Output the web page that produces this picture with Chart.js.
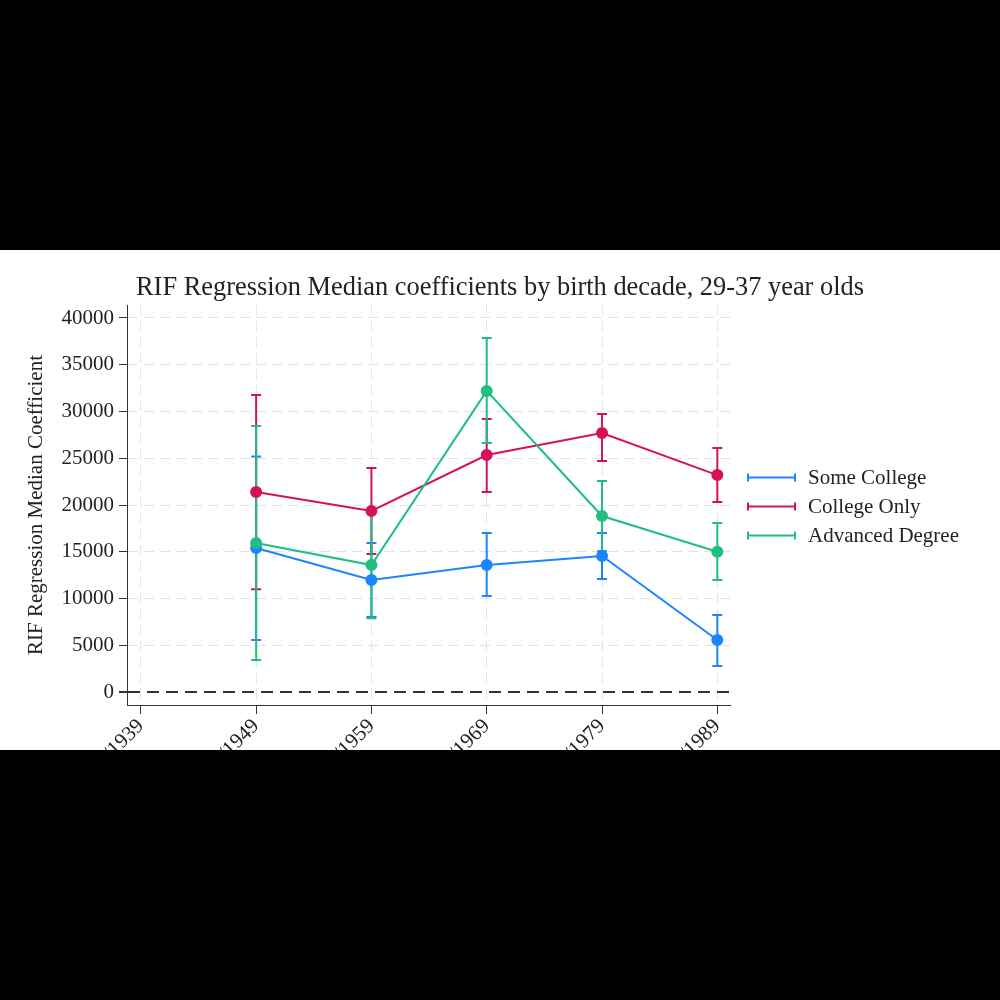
<!DOCTYPE html>
<html>
<head>
<meta charset="utf-8">
<script src="https://cdn.jsdelivr.net/npm/chart.js@4.4.0/dist/chart.umd.min.js"></script>
<style>
  html, body { margin: 0; padding: 0; background: #000; }
  #wrap { position: absolute; left: 0; top: 250px; width: 1000px; height: 500px; background: #fff; }
</style>
</head>
<body>
<div id="wrap"><canvas id="rif" width="1000" height="500"></canvas></div>
<script>
const chartTitle = 'RIF Regression Median coefficients by birth decade, 29-37 year olds';
const tickYears = [1939, 1949, 1959, 1969, 1979, 1989];
const yTicks = [0, 5000, 10000, 15000, 20000, 25000, 30000, 35000, 40000];
const cohorts = [1949, 1959, 1969, 1979, 1989];
const seriesNames = ['Some College', 'College Only', 'Advanced Degree'];

// point estimates
const someCollege = [15400, 11980, 13580, 14550, 5560];
const collegeOnly = [21400, 19360, 25350, 27700, 23200];
const advancedDegree = [15940, 13580, 32200, 18820, 15000];

// confidence interval bounds
const someCollegeHi = [25200, 15940, 17000, 17000, 8240];
const someCollegeLo = [5560, 8020, 10270, 12090, 2780];
const collegeOnlyHi = [31760, 23960, 29200, 29730, 26100];
const collegeOnlyLo = [11000, 14760, 21400, 24700, 20320];
const advancedHi = [28450, 19300, 37860, 22570, 18070];
const advancedLo = [3420, 7900, 26630, 15070, 11980];

const colors = ['#1a85ff', '#d41159', '#1fbf7f'];
const serif = "'Liberation Serif', 'Times New Roman', serif";

const series = [
  { name: seriesNames[0], color: colors[0], est: someCollege, hi: someCollegeHi, lo: someCollegeLo },
  { name: seriesNames[1], color: colors[1], est: collegeOnly, hi: collegeOnlyHi, lo: collegeOnlyLo },
  { name: seriesNames[2], color: colors[2], est: advancedDegree, hi: advancedHi, lo: advancedLo }
];

const errorBars = {
  id: 'errorBars',
  beforeDatasetsDraw(chart) {
    const { ctx, scales: { x, y } } = chart;
    series.forEach(s => {
      ctx.save();
      ctx.strokeStyle = s.color;
      ctx.lineWidth = 2;
      cohorts.forEach((yr, i) => {
        const px = x.getPixelForValue(yr);
        const top = y.getPixelForValue(s.hi[i]);
        const bot = y.getPixelForValue(s.lo[i]);
        ctx.beginPath();
        ctx.moveTo(px, top); ctx.lineTo(px, bot);
        ctx.moveTo(px - 5, top); ctx.lineTo(px + 5, top);
        ctx.moveTo(px - 5, bot); ctx.lineTo(px + 5, bot);
        ctx.stroke();
      });
      ctx.restore();
    });
  },
  afterDraw(chart) {
    const ctx = chart.ctx;
    // title, centred on the whole canvas
    ctx.save();
    ctx.fillStyle = '#222';
    ctx.font = '26.4px ' + serif;
    ctx.textAlign = 'center';
    ctx.textBaseline = 'middle';
    ctx.fillText(chartTitle, 500, 38);
    ctx.restore();
    // legend on the right, drawn like Stata's rcap keys
    const x0 = chart.chartArea.right + 18;
    series.forEach((s, i) => {
      const yy = 227 + i * 29 + 0.5;
      ctx.save();
      ctx.strokeStyle = s.color;
      ctx.lineWidth = 2;
      ctx.beginPath();
      ctx.moveTo(x0, yy); ctx.lineTo(x0 + 47, yy);
      ctx.moveTo(x0, yy - 4); ctx.lineTo(x0, yy + 4);
      ctx.moveTo(x0 + 47, yy - 4); ctx.lineTo(x0 + 47, yy + 4);
      ctx.stroke();
      ctx.fillStyle = '#222';
      ctx.font = '21px ' + serif;
      ctx.textBaseline = 'middle';
      ctx.fillText(s.name, x0 + 60, yy + 1);
      ctx.restore();
    });
  }
};

const isZero = c => c.tick && c.tick.value === 0;

new Chart(document.getElementById('rif'), {
  type: 'line',
  data: {
    datasets: series.map((s, i) => ({
      label: s.name,
      data: cohorts.map((yr, j) => ({ x: yr, y: s.est[j] })),
      borderColor: s.color,
      backgroundColor: s.color,
      pointBackgroundColor: s.color,
      pointBorderColor: s.color,
      pointRadius: 5,
      borderWidth: 2,
      tension: 0,
      order: 3 - i
    }))
  },
  options: {
    responsive: false,
    animation: false,
    layout: { padding: { left: 0, right: 270, top: 55, bottom: 0 } },
    plugins: {
      legend: { display: false },
      tooltip: { enabled: false },
      title: { display: false }
    },
    scales: {
      x: {
        type: 'linear',
        min: 1937.8,
        max: 1990.1,
        afterBuildTicks: s => { s.ticks = tickYears.map(v => ({ value: v })); },
        afterFit: s => { s.height = 45; },
        grid: { color: '#e3e3e3', lineWidth: 1, tickColor: '#333', tickLength: 9 },
        border: { color: '#333', width: 1, dash: [10, 6] },
        ticks: {
          autoSkip: false, minRotation: 45, maxRotation: 45, padding: 0,
          color: '#222', font: { family: serif, size: 21 },
          callback: v => (v - 9) + '/' + v
        }
      },
      y: {
        min: -1390,
        max: 41390,
        afterBuildTicks: s => { s.ticks = yTicks.map(v => ({ value: v })); },
        afterFit: s => { s.width = 127; },
        grid: {
          color: c => isZero(c) ? '#333' : '#e3e3e3',
          lineWidth: c => isZero(c) ? 2 : 1,
          tickColor: '#333',
          tickLength: 8
        },
        border: { color: '#333', width: 1, dash: c => isZero(c) ? [12, 7] : [10, 6] },
        ticks: {
          padding: 5,
          color: '#222', font: { family: serif, size: 21 },
          callback: v => String(v)
        },
        title: {
          display: true,
          text: 'RIF Regression Median Coefficient',
          color: '#222',
          font: { family: serif, size: 21 },
          padding: { top: 24, bottom: 0 }
        }
      }
    }
  },
  plugins: [errorBars]
});
</script>
</body>
</html>
